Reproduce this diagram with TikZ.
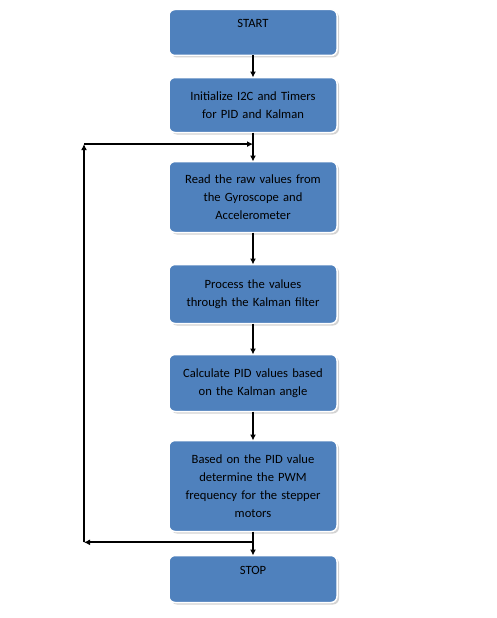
\documentclass[tikz,border=0pt]{standalone}
\usepackage{fontspec}
\setmainfont{Carlito}
\usetikzlibrary{arrows.meta, positioning, shadows, calc}
\definecolor{boxblue}{RGB}{79,129,189}

\begin{document}
\begin{tikzpicture}[x=1pt, y=-1pt,
  every node/.style={font=\fontsize{12.6}{18}\selectfont},
  stepbox/.style={draw=white, line width=1.5pt, rounded corners=6pt, fill=boxblue,
    drop shadow={opacity=0.35, shadow xshift=2pt, shadow yshift=-2pt},
    minimum width=168pt, text width=164pt, align=center, inner sep=2pt, outer sep=0pt},
  arrow/.style={-{Latex[width=6pt,length=6pt]}, line width=1.8pt}
]
\useasboundingbox (0,0) rectangle (497,618);

% Main vertical flow
\node[stepbox, minimum height=46pt] (start) at (253,32.5) {START\\ \mbox{}};
\node[stepbox, minimum height=55pt, below=22pt of start] (init) {Initialize I2C and Timers\\for PID and Kalman};
\node[stepbox, minimum height=71pt, below=29pt of init] (read) {Read the raw values from\\the Gyroscope and\\Accelerometer};
\node[stepbox, minimum height=59pt, below=32pt of read] (process) {Process the values\\through the Kalman filter};
\node[stepbox, minimum height=57pt, below=31pt of process] (calc) {Calculate PID values based\\on the Kalman angle};
\node[stepbox, minimum height=91pt, below=29pt of calc] (pwm) {Based on the PID value\\determine the PWM\\frequency for the stepper\\motors};
\node[stepbox, minimum height=47pt, below=24pt of pwm] (stop) {STOP\\ \mbox{}};

% Loop points
\coordinate (merge) at ($(init.south)!0.4!(read.north)$);
\coordinate (split) at ($(pwm.south)!0.45!(stop.north)$);
\coordinate (lowleft) at (84,0 |- split);
\coordinate (upleft) at (84,0 |- merge);

% Arrows (main flow)
\draw[arrow] (start) -- (init);
\draw[arrow] (init) -- (read);
\draw[arrow] (read) -- (process);
\draw[arrow] (process) -- (calc);
\draw[arrow] (calc) -- (pwm);
\draw[arrow] (pwm) -- (stop);

% Loop back
\draw[arrow] (split) -- (lowleft);
\draw[arrow] (lowleft) -- (upleft);
\draw[arrow] (upleft) -- (merge);
\end{tikzpicture}
\end{document}
